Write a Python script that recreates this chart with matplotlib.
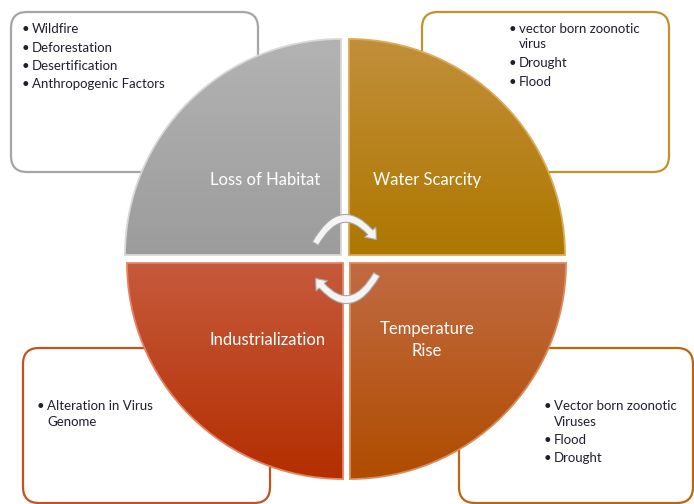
import numpy as np
import matplotlib.pyplot as plt
from matplotlib.patches import Wedge, FancyBboxPatch, FancyArrowPatch
from matplotlib.colors import LinearSegmentedColormap

# quadrant labels and bullet lists (reading order: TL, TR, BL, BR)
labels = ["Loss of Habitat", "Water Scarcity", "Industrialization", "Temperature\nRise"]
bullets = [
    ["Wildfire", "Deforestation", "Desertification", "Anthropogenic Factors"],
    ["vector born zoonotic\nvirus", "Drought", "Flood"],
    ["Alteration in Virus\nGenome"],
    ["Vector born zoonotic\nViruses", "Flood", "Drought"],
]
top_cols = ["#b3b3b3", "#c28f3a", "#c65a3c", "#c16b42"]
bot_cols = ["#9c9c9c", "#ae7700", "#b42e00", "#b04c00"]
edge_cols = ["#d8d8d8", "#dcaa58", "#e48466", "#dc8a5a"]
box_cols = ["#a6a6a6", "#c4922c", "#c4521c", "#c0640e"]

W, H = 694, 504
fig = plt.figure(figsize=(W / 100, H / 100), dpi=100)
ax = fig.add_axes([0, 0, 1, 1])
ax.set_xlim(0, W)
ax.set_ylim(H, 0)
ax.set_aspect('equal')
ax.axis('off')

font = ['Lato', 'DejaVu Sans']
txt_col = '#1f1f2e'

# text boxes behind the circle: x0, y0, x1, y1
boxes = [(11, 12, 258, 172), (422, 12, 669, 172), (23, 348, 270, 503), (459, 348, 693, 503)]
for (x0, y0, x1, y1), c in zip(boxes, box_cols):
    ax.add_patch(FancyBboxPatch((x0, y0), x1 - x0, y1 - y0,
                                boxstyle="round,pad=0,rounding_size=16",
                                fc='white', ec=c, lw=1.6, zorder=1))

# quadrants
R = 216
centers = [(341, 255), (349, 255), (343, 263), (350, 263)]
angles = [(180, 270), (270, 360), (90, 180), (0, 90)]
for i in range(4):
    cx, cy = centers[i]
    t1, t2 = angles[i]
    w = Wedge((cx, cy), R, t1, t2, fc='none', ec=edge_cols[i], lw=1.3, zorder=4)
    ax.add_patch(w)
    cmap = LinearSegmentedColormap.from_list('q%d' % i, [top_cols[i], bot_cols[i]])
    grad = np.linspace(0, 1, 256).reshape(-1, 1)
    ys = cy - R if i < 2 else cy
    im = ax.imshow(grad, cmap=cmap, aspect='auto', origin='upper',
                   extent=[cx - R, cx + R, ys + R, ys], zorder=3)
    im.set_clip_path(w)

# quadrant labels
label_pos = [(265, 180), (427, 180), (268, 340), (427, 340)]
for (x, y), t in zip(label_pos, labels):
    ax.text(x, y, t, color='white', fontsize=12, family=font,
            ha='center', va='center', linespacing=1.45, zorder=6)

# bullet lists: x of bullet, y of first line
list_pos = [(22, 29), (509, 29), (37, 406), (544, 406)]
line_h = 15.5
gap = 3
for (bx, by), items in zip(list_pos, bullets):
    y = by
    for it in items:
        ax.text(bx, y, "\u2022", color=txt_col, fontsize=9.5, family=font,
                ha='left', va='center', zorder=2)
        parts = it.split("\n")
        for k, part in enumerate(parts):
            ax.text(bx + 10, y + k * line_h, part, color=txt_col, fontsize=9.5,
                    family=font, ha='left', va='center', zorder=2)
        y += line_h * len(parts) + gap

# circular arrows in the middle
arrow_style = "simple,head_width=11,head_length=7,tail_width=5"
for p0, p1 in [((314, 246), (378, 242)), ((378, 272), (314, 276))]:
    a = FancyArrowPatch(p0, p1, connectionstyle="arc3,rad=-0.8",
                        arrowstyle=arrow_style, fc='#f4f4f4', ec='#a8a8a8',
                        lw=0.8, zorder=7)
    ax.add_patch(a)

fig.savefig('out.png', dpi=100)
